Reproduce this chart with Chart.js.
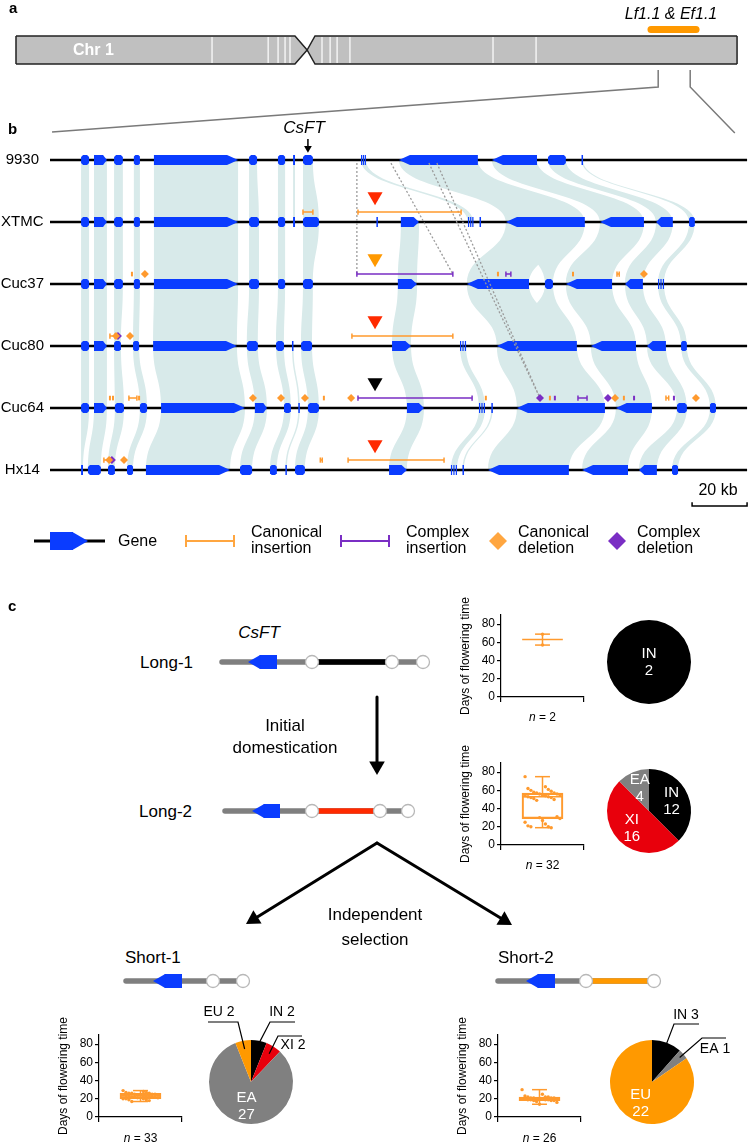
<!DOCTYPE html>
<html>
<head>
<meta charset="utf-8">
<title>CsFT haplotypes</title>
<script src="https://cdn.jsdelivr.net/npm/chart.js@4.4.1/dist/chart.umd.min.js"></script>
<style>
  body { margin: 0; background: #fff; }
  #fig { position: relative; width: 749px; height: 1142px; overflow: hidden;
         font-family: "Liberation Sans", Arial, Helvetica, sans-serif; color: #000; }
  #fig canvas { position: absolute; }
  .t { position: absolute; white-space: nowrap; line-height: 1; z-index: 5; }
  .c { transform: translate(-50%, -50%); text-align: center; }
  .l { transform: translate(0, -50%); }
  .r { transform: translate(-100%, -50%); text-align: right; }
  .b { font-weight: bold; }
</style>
</head>
<body>
<div id="fig">
  <div class="t l b" style="left:9px;top:7px;font-size:15px">a</div>
  <div class="t l b" style="left:8px;top:128px;font-size:15px">b</div>
  <div class="t l b" style="left:8px;top:605px;font-size:15px">c</div>
  <div class="t l b" style="left:73px;top:50px;font-size:16px;color:#fff">Chr 1</div>
  <div class="t c" style="left:671px;top:14px;font-size:16px;font-style:italic">Lf1.1 &amp; Ef1.1</div>
  <div class="t c" style="left:304px;top:127px;font-size:17px;font-style:italic">CsFT</div>
  <div class="t c" style="left:718px;top:490px;font-size:16px">20 kb</div>

  <div class="t l" style="left:118px;top:541px;font-size:16px">Gene</div>
  <div class="t l" style="left:251px;top:540px;font-size:16px;line-height:16px">Canonical<br>insertion</div>
  <div class="t l" style="left:406px;top:540px;font-size:16px;line-height:16px">Complex<br>insertion</div>
  <div class="t l" style="left:518px;top:540px;font-size:16px;line-height:16px">Canonical<br>deletion</div>
  <div class="t l" style="left:637px;top:540px;font-size:16px;line-height:16px">Complex<br>deletion</div>

  <div class="t c" style="left:259px;top:632px;font-size:17px;font-style:italic">CsFT</div>
  <div class="t r" style="left:193px;top:662px;font-size:17px">Long-1</div>
  <div class="t c" style="left:285px;top:737px;font-size:17px;line-height:22px">Initial<br>domestication</div>
  <div class="t r" style="left:192px;top:811px;font-size:17px">Long-2</div>
  <div class="t c" style="left:375px;top:927px;font-size:17px;line-height:25px">Independent<br>selection</div>
  <div class="t l" style="left:125px;top:957px;font-size:17px">Short-1</div>
  <div class="t l" style="left:498px;top:957px;font-size:17px">Short-2</div>
</div>
<script>
// ===== Data =====
// panel a: chromosome 1 (Mb)
const chrLengthMb = 32;
const centromereMb = [12.38, 12.92, 13.27];
const chrBandsMb = [8.70, 11.19, 11.63, 11.94, 12.16, 13.58, 13.94, 14.25, 14.82, 21.17, 23.08];
const qtlMb = [28.18, 30.18];
const zoomMb = [28.50, 29.92];

// panel b: genes per assembly (kb) [start, end, strand, syntenic group]
const trackNames = ["9930", "XTMC", "Cuc37", "Cuc80", "Cuc64", "Hx14"];
const trackEndKb = 253.5;
const genes9930 = [
  [11.3, 14.2, 0, "a"], [16.0, 20.7, 1, "b"], [23.3, 26.5, 0, "c"], [30.5, 32.7, 0, "d"], [37.8, 68.4, 1, "e"],
  [72.4, 75.3, 0, "f"], [82.9, 85.5, 0, "g"], [88.4, 89.1, 0, "h"], [92.0, 95.6, 0, "ft"],
  [113.1, 114.9, "t", "t"], [126.9, 155.6, -1, "A"], [160.7, 177.1, -1, "B"], [181.1, 187.6, 0, "C"], [193.3, 193.8, 0, "D"],
];
const genesXTMC = [
  [11.3, 14.2, 0, "a"], [16.0, 20.7, 1, "b"], [23.3, 26.5, 0, "c"], [30.5, 32.7, 0, "d"], [37.8, 68.4, 1, "e"],
  [72.4, 76.0, 0, "f"], [82.9, 85.5, 0, "g"], [88.4, 89.1, 0, "h"], [92.0, 97.8, 0, "ft"],
  [118.7, 119.2, 0, "x"], [127.6, 134.2, 1, "E"], [152.0, 154.0, "t", "t"], [156.2, 156.7, 0, "u"],
  [165.8, 194.5, -1, "A"], [200.0, 216.0, -1, "B"], [220.4, 226.5, -1, "C"], [232.4, 234.5, 0, "D"],
];
const genesCuc37 = [
  [11.3, 14.2, 0, "a"], [16.0, 20.7, 1, "b"], [23.3, 26.5, 0, "c"], [30.5, 32.7, 0, "d"], [37.8, 68.4, 1, "e"],
  [72.4, 76.0, 0, "f"], [82.9, 85.5, 0, "g"], [92.0, 95.6, 0, "ft"],
  [126.5, 133.5, 1, "E"], [151.6, 174.2, -1, "A"], [180.0, 182.9, 0, "A"], [187.6, 204.4, -1, "B"],
  [209.1, 215.6, -1, "C"], [221.1, 223.3, "t", "D"],
];
const genesCuc80 = [
  [11.3, 14.2, 0, "a"], [16.0, 20.7, 1, "b"], [23.3, 25.8, 0, "c"], [30.2, 32.4, 0, "d"], [37.5, 68.0, 1, "e"],
  [71.6, 75.6, 0, "f"], [82.2, 85.1, 0, "g"], [88.0, 88.5, 0, "h"], [91.3, 95.3, 0, "ft"],
  [124.4, 131.3, 1, "E"], [149.1, 151.3, "t", "t"], [162.5, 191.6, -1, "A"], [196.7, 213.1, -1, "B"],
  [217.1, 224.0, -1, "C"], [229.5, 231.6, 0, "D"],
];
const genesCuc64 = [
  [11.3, 14.2, 0, "a"], [16.0, 20.7, 1, "b"], [23.6, 26.9, 0, "c"], [32.7, 35.3, 0, "d"], [40.4, 70.9, 1, "e"],
  [74.5, 78.9, 1, "f"], [85.1, 87.6, 0, "g"], [90.3, 90.8, 0, "h"], [93.8, 97.8, 0, "ft"],
  [129.8, 136.0, 1, "E"], [156.0, 158.2, "t", "t"], [160.5, 161.0, 0, "u"], [169.8, 201.8, -1, "A"],
  [205.8, 218.9, -1, "B"], [228.0, 231.6, 0, "C"], [240.0, 242.2, 0, "D"],
];
const genesHx14 = [
  [11.3, 12.0, 0, "a"], [13.8, 18.5, 0, "b"], [21.1, 23.6, 0, "c"], [28.0, 30.2, 0, "d"], [34.9, 65.5, 1, "e"],
  [69.1, 73.5, 0, "f"], [80.0, 82.5, 0, "g"], [85.6, 86.1, 0, "h"], [89.1, 92.7, 0, "ft"],
  [123.3, 129.8, 1, "E"], [145.8, 148.0, "t", "t"], [150.0, 150.5, 0, "u"], [159.3, 188.7, -1, "A"],
  [193.5, 210.2, -1, "B"], [214.2, 220.7, -1, "C"], [226.2, 228.4, 0, "D"],
];
const csftKb = 93.8;

// structural variants [track, start, end] / [track, position]
const canonIns = [[1, 92.0, 95.6], [1, 112.0, 149.5], [2, 206.2, 207.0], [3, 21.8, 23.6], [3, 109.8, 146.5],
  [4, 28.7, 31.6], [4, 224.0, 225.0], [5, 19.6, 21.8], [5, 98.3, 99.0], [5, 108.4, 143.3]];
const complexIns = [[2, 111.6, 146.5], [2, 165.8, 167.6], [4, 112.0, 153.5], [4, 192.0, 195.3]];
const canonDel = [[2, 34.5], [2, 216.0], [3, 24.0], [3, 29.1], [4, 73.8], [4, 84.0], [4, 92.7], [4, 109.5],
  [4, 205.5], [4, 234.9], [5, 21.5], [5, 26.9]];
const complexDel = [[3, 24.7], [4, 178.2], [4, 202.9], [5, 22.5]];
const canonSmall = [[2, 29.8], [2, 162.9], [2, 190.2], [4, 21.8], [4, 22.9], [4, 32.4], [4, 99.6],
  [4, 158.5], [4, 181.8], [4, 208.7]];
const complexSmall = [[4, 183.6], [4, 212.4], [4, 226.9]];
const svMarkKb = 118.2;
const svTrackHap = ["Long-2", "Short-2", "Long-2", "Long-1", "Long-2"]; // tracks 1..5
const svLinks = [[0, 111.6, 2, 111.6], [0, 124.0, 2, 146.5], [0, 137.8, 4, 178.2], [0, 140.7, 4, 178.2]];
const scaleBarKb = [233.5, 253.5];

// panel c: haplotypes
const hapNames = ["Long-1", "Long-2", "Short-1", "Short-2"];
const hapLength = [201, 183, 117, 156];
const hapGene = [[26, 55], [27, 55], [27, 56], [28, 57]];
const hapNodes = [[90, 170, 201], [87, 155, 183], [87, 117], [88, 156]];
const hapSpan = [[90, 170], [87, 155], null, [88, 156]];

// flowering time (days)
const dayTicks = [0, 20, 40, 60, 80];
const boxLong1 = [57, 63, 63, 63, 69];
const boxLong2 = [19, 29, 53, 57, 75];
const boxShort1 = [17, 20, 23, 26, 29];
const boxShort2 = [14, 18, 20, 22, 30];
const daysLong1 = [57, 69];
const daysLong2 = [75, 64, 62, 61, 60, 59, 58, 57, 57, 56, 56, 55, 55, 54, 54, 53, 53, 52, 52, 51,
  50, 49, 31, 30, 29, 27, 25, 23, 21, 20, 20, 19];
const daysShort1 = [29, 28, 27, 27, 26, 26, 26, 25, 25, 25, 24, 24, 24, 24, 23, 23, 23, 23, 23, 22,
  22, 22, 22, 21, 21, 21, 20, 20, 20, 19, 19, 18, 17];
const daysShort2 = [30, 25, 23, 22, 22, 22, 21, 21, 21, 21, 20, 20, 20, 20, 20, 20, 19, 19, 19, 19,
  18, 18, 18, 17, 16, 14];

// population of accessions
const pieGroups = [["IN"], ["IN", "XI", "EA"], ["IN", "XI", "EA", "EU"], ["IN", "EA", "EU"]];
const pieCounts = [[2], [12, 16, 4], [2, 2, 27, 2], [3, 1, 22]];

// arrows between haplotypes
const flowArrows = [[377, 697, 377, 775], [377, 843, 246, 924], [377, 843, 512, 925]];

// ===== Styles =====
const ORANGE = "#ff9a2e", PURPLE = "#7a2ec4", BLUE = "#0a3cff", RIBBON = "#d8eaea";
const popColor = { IN: "#000000", XI: "#e8000c", EA: "#808080", EU: "#ff9900" };
const hapColor = { "Long-1": "#000000", "Long-2": "#ff2a00", "Short-2": "#ff9900" };
const GENE_H = 5;

Chart.defaults.font.family = '"Liberation Sans", Arial, Helvetica, sans-serif';
Chart.defaults.color = "#000";
Chart.defaults.layout.autoPadding = false;
Chart.defaults.plugins.legend.display = false;
Chart.defaults.plugins.tooltip.enabled = false;

const fig = document.getElementById("fig");
function addCanvas(left, top, w, h) {
  const cv = document.createElement("canvas");
  cv.width = w; cv.height = h;
  cv.style.left = left + "px"; cv.style.top = top + "px";
  cv.style.width = w + "px"; cv.style.height = h + "px";
  fig.appendChild(cv);
  return cv;
}
function addLabel(html, x, y, size) {
  const d = document.createElement("div");
  d.className = "t c";
  d.style.left = x + "px"; d.style.top = y + "px"; d.style.fontSize = size + "px";
  d.innerHTML = html;
  fig.appendChild(d);
}
const base = { responsive: false, maintainAspectRatio: false, animation: false, devicePixelRatio: 1, events: [] };
const hidden = (min, max, reverse) => ({ type: "linear", display: false, min, max, reverse: !!reverse });
const gap = (x) => ({ x, y: null });

// ===== a: chromosome =====
const chrTop = 36, chrBot = 64, chrMid = 50;
const chrEdge = (yv) => [
  { x: 0, y: yv }, { x: centromereMb[0], y: yv }, { x: centromereMb[1], y: chrMid },
  { x: centromereMb[2], y: yv }, { x: chrLengthMb, y: yv },
];
new Chart(addCanvas(0, 0, 749, 150), {
  type: "scatter",
  data: {
    datasets: [
      { type: "line", data: qtlMb.map((v) => ({ x: v, y: 29.5 })), borderColor: "#ff9900", borderWidth: 7,
        borderCapStyle: "round", pointRadius: 0 },
      { type: "line", data: chrBandsMb.flatMap((v) => [{ x: v, y: chrTop + 1 }, { x: v, y: chrBot - 1 }, gap(v)]),
        borderColor: "#fff", borderWidth: 1.2, pointRadius: 0 },
      { type: "line", data: chrEdge(chrTop), borderColor: "#222", borderWidth: 1.5, pointRadius: 0,
        fill: "+1", backgroundColor: "#c0c0c0" },
      { type: "line", data: chrEdge(chrBot), borderColor: "#222", borderWidth: 1.5, pointRadius: 0 },
      { type: "line", data: [{ x: 0, y: chrTop }, { x: 0, y: chrBot }, gap(0), { x: chrLengthMb, y: chrTop }, { x: chrLengthMb, y: chrBot }],
        borderColor: "#222", borderWidth: 1.5, pointRadius: 0 },
      { type: "line", data: [
          { x: zoomMb[0], y: 70 }, { x: zoomMb[0], y: 87 }, { x: 1.6, y: 132 }, gap(1.6),
          { x: zoomMb[1], y: 70 }, { x: zoomMb[1], y: 87 }, { x: 31.9, y: 133 }],
        borderColor: "#7a7a7a", borderWidth: 1.5, pointRadius: 0 },
    ],
  },
  options: { ...base,
    plugins: { filler: { propagate: false, drawTime: "beforeDatasetsDraw" } },
    scales: { x: hidden(-0.71, 32.53), y: hidden(0, 150, true) } },
});

// ===== b: synteny of assemblies =====
const trackGenes = [genes9930, genesXTMC, genesCuc37, genesCuc80, genesCuc64, genesHx14];

function geneShape(ctx, x1, x2, yc, dir) {
  const h = GENE_H, w = x2 - x1;
  if (dir === "t") {
    for (let k = 0; k < 3; k++) ctx.fillRect(x1 + (w - 1.2) * k / 2, yc - h, 1.2, 2 * h);
    return;
  }
  if (w < 3) { ctx.fillRect(x1, yc - h, Math.max(w, 1.5), 2 * h); return; }
  const tip = Math.min(11, w * 0.3), c = Math.min(2, w / 4);
  ctx.beginPath();
  if (dir === 1) {
    ctx.moveTo(x1, yc - h); ctx.lineTo(x2 - tip, yc - h); ctx.lineTo(x2, yc);
    ctx.lineTo(x2 - tip, yc + h); ctx.lineTo(x1, yc + h);
  } else if (dir === -1) {
    ctx.moveTo(x2, yc - h); ctx.lineTo(x1 + tip, yc - h); ctx.lineTo(x1, yc);
    ctx.lineTo(x1 + tip, yc + h); ctx.lineTo(x2, yc + h);
  } else {
    ctx.moveTo(x1 + c, yc - h); ctx.lineTo(x2 - c, yc - h); ctx.lineTo(x2, yc - h + c);
    ctx.lineTo(x2, yc + h - c); ctx.lineTo(x2 - c, yc + h); ctx.lineTo(x1 + c, yc + h);
    ctx.lineTo(x1, yc + h - c); ctx.lineTo(x1, yc - h + c);
  }
  ctx.closePath();
  ctx.fill();
}

const genomePlugin = {
  id: "genome",
  beforeDatasetsDraw(chart) {
    const { ctx, scales: { x, y } } = chart;
    ctx.save();
    ctx.fillStyle = RIBBON;
    for (let i = 0; i < trackGenes.length - 1; i++) {
      const y1 = y.getPixelForValue(i), y2 = y.getPixelForValue(i + 1), ym = (y1 + y2) / 2;
      trackGenes[i].forEach((g) => {
        trackGenes[i + 1].forEach((h) => {
          if (g[3] !== h[3]) return;
          const a1 = x.getPixelForValue(g[0]), a2 = Math.max(x.getPixelForValue(g[1]), a1 + 1.5);
          const b1 = x.getPixelForValue(h[0]), b2 = Math.max(x.getPixelForValue(h[1]), b1 + 1.5);
          ctx.beginPath();
          ctx.moveTo(a1, y1);
          ctx.bezierCurveTo(a1, ym, b1, ym, b1, y2);
          ctx.lineTo(b2, y2);
          ctx.bezierCurveTo(b2, ym, a2, ym, a2, y1);
          ctx.closePath();
          ctx.fill();
        });
      });
    }
    ctx.restore();
  },
  afterDatasetDraw(chart, args) {
    if (args.index !== chart.data.datasets.length - 1) return;
    const { ctx, scales: { x, y } } = chart;
    ctx.save();
    ctx.fillStyle = BLUE;
    trackGenes.forEach((list, i) => {
      const yc = y.getPixelForValue(i);
      list.forEach((g) => geneShape(ctx, x.getPixelForValue(g[0]), x.getPixelForValue(g[1]), yc, g[2]));
    });
    ctx.restore();
  },
};

const ROW = -0.16;
const segs = (list) => list.flatMap(([t, s, e]) => [{ x: s, y: t + ROW }, { x: e, y: t + ROW }, gap(e)]);
const pts = (list) => list.map(([t, p]) => ({ x: p, y: t + ROW }));
const capped = (color) => ({ borderColor: color, borderWidth: 1.5, pointStyle: "line", pointRotation: 90,
  pointRadius: 2.6, pointBorderColor: color, pointBorderWidth: 1.5 });
const diamond = (color) => ({ pointStyle: "rectRot", pointRadius: 4, pointBackgroundColor: color, pointBorderWidth: 0 });
const tick = (color) => ({ pointStyle: "line", pointRotation: 90, pointRadius: 2.3, pointBorderColor: color, pointBorderWidth: 2 });

new Chart(addCanvas(0, 120, 749, 410), {
  type: "scatter",
  data: {
    datasets: [
      { data: svTrackHap.map((h, k) => ({ x: svMarkKb, y: k + 1 - 0.41 })), pointStyle: "triangle", pointRotation: 180,
        pointRadius: 8.7, pointBackgroundColor: svTrackHap.map((h) => hapColor[h]), pointBorderWidth: 0 },
      { data: [{ x: csftKb, y: -0.19 }], pointStyle: "triangle", pointRotation: 180, pointRadius: 4.5,
        pointBackgroundColor: "#000", pointBorderWidth: 0 },
      { type: "line", data: [{ x: csftKb, y: -0.34 }, { x: csftKb, y: -0.2 }], borderColor: "#000", borderWidth: 1.5, pointRadius: 0 },
      { data: pts(canonDel), ...diamond(ORANGE) },
      { data: pts(complexDel), ...diamond(PURPLE) },
      { data: pts(canonSmall), ...tick(ORANGE) },
      { data: pts(complexSmall), ...tick(PURPLE) },
      { type: "line", data: segs(canonIns), ...capped(ORANGE) },
      { type: "line", data: segs(complexIns), ...capped(PURPLE) },
      { type: "line", data: svLinks.flatMap(([t1, k1, t2, k2]) => [{ x: k1, y: t1 + 0.05 }, { x: k2, y: t2 + ROW }, gap(k2)]),
        borderColor: "#9a9a9a", borderWidth: 1.3, borderDash: [2, 2], pointRadius: 0 },
      { type: "line", data: [{ x: scaleBarKb[0], y: 5.52 }, { x: scaleBarKb[0], y: 5.58 }, { x: scaleBarKb[1], y: 5.58 }, { x: scaleBarKb[1], y: 5.52 }],
        borderColor: "#000", borderWidth: 1.5, pointRadius: 0 },
      { type: "line", data: trackNames.flatMap((n, i) => [{ x: 0, y: i }, { x: trackEndKb, y: i }, gap(trackEndKb)]),
        borderColor: "#000", borderWidth: 2.5, pointRadius: 0 },
    ],
  },
  options: { ...base,
    layout: { padding: 0 },
    scales: {
      x: hidden(0, 254.2),
      y: { type: "linear", min: -0.645, max: 5.968, reverse: true,
        afterBuildTicks: (s) => { s.ticks = trackNames.map((n, i) => ({ value: i })); },
        afterFit: (s) => { s.width = 50; s.paddingTop = 0; s.paddingBottom = 0; },
        ticks: { callback: (v) => trackNames[v], font: { size: 15 }, color: "#000", crossAlign: "center", padding: 6 },
        grid: { display: false, drawTicks: false }, border: { display: false } },
    } },
  plugins: [genomePlugin],
});

// legend
new Chart(addCanvas(0, 520, 749, 42), {
  type: "scatter",
  data: {
    datasets: [
      { data: [{ x: 498, y: 541 }], pointStyle: "rectRot", pointRadius: 9, pointBackgroundColor: "#ffa640", pointBorderWidth: 0 },
      { data: [{ x: 617, y: 541 }], pointStyle: "rectRot", pointRadius: 9, pointBackgroundColor: PURPLE, pointBorderWidth: 0 },
      { type: "line", data: [{ x: 186, y: 541 }, { x: 234, y: 541 }], borderColor: "#ffa640", borderWidth: 2,
        pointStyle: "line", pointRotation: 90, pointRadius: 6, pointBorderColor: "#ffa640", pointBorderWidth: 2 },
      { type: "line", data: [{ x: 341, y: 541 }, { x: 389, y: 541 }], borderColor: PURPLE, borderWidth: 2,
        pointStyle: "line", pointRotation: 90, pointRadius: 6, pointBorderColor: PURPLE, pointBorderWidth: 2 },
      { data: [{ x: 77.6, y: 541 }], pointStyle: "triangle", pointRotation: 90, pointRadius: 10.4,
        pointBackgroundColor: BLUE, pointBorderWidth: 0 },
      { type: "line", data: [{ x: 50, y: 541 }, { x: 73, y: 541 }], borderColor: BLUE, borderWidth: 18,
        borderCapStyle: "butt", pointRadius: 0 },
      { type: "line", data: [{ x: 34, y: 541 }, { x: 105, y: 541 }], borderColor: "#000", borderWidth: 3, pointRadius: 0 },
    ],
  },
  options: { ...base, scales: { x: hidden(0, 749), y: hidden(520, 562, true) } },
});

// ===== c: haplotypes =====
const hapPos = [[222, 662], [225, 811], [126, 981], [498, 981]];
hapNames.forEach((name, i) => {
  const [px, py] = hapPos[i];
  const len = hapLength[i];
  const [g0, g1] = hapGene[i];
  const headR = 8.1;
  const sets = [
    { data: hapNodes[i].map((v) => ({ x: v, y: 0 })), pointRadius: 6.5, pointBackgroundColor: "#fff",
      pointBorderColor: "#b8b8b8", pointBorderWidth: 1.3 },
    { data: [{ x: g0 + headR, y: 0 }], pointStyle: "triangle", pointRotation: -90, pointRadius: headR,
      pointBackgroundColor: BLUE, pointBorderWidth: 0 },
    { type: "line", data: [{ x: g0 + headR * 1.5 - 0.5, y: 0 }, { x: g1, y: 0 }], borderColor: BLUE, borderWidth: 14,
      borderCapStyle: "butt", pointRadius: 0 },
  ];
  if (hapSpan[i]) {
    sets.push({ type: "line", data: hapSpan[i].map((v) => ({ x: v, y: 0 })), borderColor: hapColor[name],
      borderWidth: 5.5, borderCapStyle: "butt", pointRadius: 0 });
  }
  sets.push({ type: "line", data: [{ x: 0, y: 0 }, { x: len, y: 0 }], borderColor: "#7f7f7f", borderWidth: 5.5,
    borderCapStyle: "round", pointRadius: 0 });
  new Chart(addCanvas(px - 12, py - 12, len + 24, 24), {
    type: "scatter",
    data: { datasets: sets },
    options: { ...base, scales: { x: hidden(-12, len + 12), y: hidden(-12, 12, true) } },
  });
});

// arrows
new Chart(addCanvas(200, 690, 350, 245), {
  type: "scatter",
  data: {
    datasets: flowArrows.flatMap(([x0, y0, x1, y1]) => {
      const L = Math.hypot(x1 - x0, y1 - y0), ux = (x1 - x0) / L, uy = (y1 - y0) / L, r = 9;
      const cx = x1 - ux * r, cy = y1 - uy * r;
      return [
        { data: [{ x: cx, y: cy }], pointStyle: "triangle", pointRadius: r,
          pointRotation: (Math.atan2(ux, -uy) * 180) / Math.PI, pointBackgroundColor: "#000", pointBorderWidth: 0 },
        { type: "line", data: [{ x: x0, y: y0 }, { x: cx, y: cy }], borderColor: "#000", borderWidth: 3,
          borderCapStyle: "round", pointRadius: 0 },
      ];
    }),
  },
  options: { ...base, scales: { x: hidden(200, 550), y: hidden(690, 935, true) } },
});

// box plots
const boxStats = [boxLong1, boxLong2, boxShort1, boxShort2];
const boxDays = [daysLong1, daysLong2, daysShort1, daysShort2];
const boxPos = [[450, 585, 135], [450, 733, 135], [48, 1005, 136], [447, 1005, 136]];
boxStats.forEach((st, k) => {
  const [mn, q1, md, q3, mx] = st;
  const vals = boxDays[k];
  const [left, top, h] = boxPos[k];
  const amp = vals.length > 5 ? 0.42 : 0;
  const line = (a, b) => ({ type: "line", data: [a, b], borderColor: ORANGE, borderWidth: 1.5, pointRadius: 0 });
  new Chart(addCanvas(left, top, 150, h), {
    type: "scatter",
    data: {
      datasets: [
        { data: vals.map((v, i) => ({ x: (((i * 7) % 13) - 6) / 6 * amp, y: v })), pointRadius: 1.7,
          pointBackgroundColor: ORANGE, pointBorderWidth: 0 },
        line({ x: -0.49, y: md }, { x: 0.49, y: md }),
        line({ x: 0, y: q3 }, { x: 0, y: mx }),
        line({ x: 0, y: q1 }, { x: 0, y: mn }),
        line({ x: -0.18, y: mx }, { x: 0.18, y: mx }),
        line({ x: -0.18, y: mn }, { x: 0.18, y: mn }),
        { type: "bar", data: [{ x: 0, y: [q1, q3] }], barThickness: 41, borderColor: ORANGE, borderWidth: 1.5,
          borderSkipped: false, backgroundColor: "rgba(0,0,0,0)" },
      ],
    },
    options: { ...base,
      layout: { padding: { top: 30, right: 16, left: 0, bottom: 0 } },
      scales: {
        x: { type: "linear", min: -1, max: 1, offset: false,
          afterBuildTicks: (s) => { s.ticks = [{ value: 0 }]; },
          afterFit: (s) => { s.height = h - 112; },
          ticks: { callback: () => "" },
          grid: { drawOnChartArea: false, tickLength: 5, color: "#000", lineWidth: 1.2 },
          border: { color: "#000", width: 1.2 } },
        y: { type: "linear", min: 0, max: 90,
          afterBuildTicks: (s) => { s.ticks = dayTicks.map((v) => ({ value: v })); },
          afterFit: (s) => { s.width = 51; },
          ticks: { font: { size: 12 }, padding: 2, color: "#000" },
          grid: { drawOnChartArea: false, tickLength: 4, color: "#000", lineWidth: 1.2 },
          border: { color: "#000", width: 1.2 },
          title: { display: true, text: "Days of flowering time", font: { size: 12 }, color: "#000",
            padding: { top: 8, bottom: 0 } } },
      } },
  });
  addLabel(`<i>n</i> = ${vals.length}`, left + 51 + 41.5, top + h - 23 + 20, 12);
});

// pies
const pieLabels = {
  id: "pieLabels",
  afterDatasetsDraw(chart, args, opts) {
    const { ctx } = chart;
    const cats = chart.data.labels, vals = chart.data.datasets[0].data;
    chart.getDatasetMeta(0).data.forEach((arc, i) => {
      const { x, y, startAngle, endAngle, outerRadius: r } = arc.getProps(["x", "y", "startAngle", "endAngle", "outerRadius"]);
      const mid = (startAngle + endAngle) / 2;
      const co = (opts.callouts || {})[cats[i]];
      ctx.save();
      ctx.textAlign = "center";
      ctx.textBaseline = "middle";
      if (co) {
        ctx.strokeStyle = "#000";
        ctx.lineWidth = 1.2;
        ctx.beginPath();
        ctx.moveTo(x + Math.cos(mid) * r * co.r0, y + Math.sin(mid) * r * co.r0);
        ctx.lineTo(x + co.elbow[0], y + co.elbow[1]);
        ctx.lineTo(x + co.end, y + co.elbow[1]);
        ctx.stroke();
        ctx.fillStyle = "#000";
        ctx.font = `${opts.outSize}px "Liberation Sans", Arial, sans-serif`;
        ctx.fillText(`${cats[i]} ${vals[i]}`, x + co.text[0], y + co.text[1]);
      } else {
        const full = endAngle - startAngle > 6.2;
        const lx = full ? x : x + Math.cos(mid) * r * 0.58, ly = full ? y : y + Math.sin(mid) * r * 0.58;
        ctx.fillStyle = "#fff";
        ctx.font = `${opts.inSize}px "Liberation Sans", Arial, sans-serif`;
        ctx.fillText(cats[i], lx, ly - 8.5);
        ctx.fillText(String(vals[i]), lx, ly + 8.5);
      }
      ctx.restore();
    });
  },
};
const pieBoxes = [
  { box: [600, 612, 100, 100], pad: { left: 7, right: 9, top: 8, bottom: 8 }, inSize: 15 },
  { box: [600, 761, 100, 100], pad: { left: 7, right: 9, top: 8, bottom: 8 }, inSize: 15 },
  { box: [190, 995, 130, 135], pad: { left: 19, right: 27, top: 45, bottom: 6 }, inSize: 15, callouts: {
      EU: { r0: 0.8, elbow: [-13, -60], end: -43, text: [-32, -70] },
      IN: { r0: 0.9, elbow: [19, -60], end: 44, text: [31, -70] },
      XI: { r0: 0.8, elbow: [27, -46], end: 51, text: [42, -37] } } },
  { box: [600, 995, 140, 135], pad: { left: 10, right: 46, top: 45, bottom: 6 }, inSize: 15, callouts: {
      IN: { r0: 0.92, elbow: [22, -58], end: 47, text: [34, -67] },
      EA: { r0: 0.88, elbow: [50, -44], end: 74, text: [63, -33] } } },
];
pieGroups.forEach((cats, k) => {
  const P = pieBoxes[k];
  new Chart(addCanvas(...P.box), {
    type: "pie",
    data: { labels: cats, datasets: [{ data: pieCounts[k], backgroundColor: cats.map((c) => popColor[c]), borderWidth: 0 }] },
    options: { ...base, layout: { padding: P.pad },
      plugins: { pieLabels: { callouts: P.callouts, inSize: P.inSize, outSize: 14 } } },
    plugins: [pieLabels],
  });
});
</script>
</body>
</html>
